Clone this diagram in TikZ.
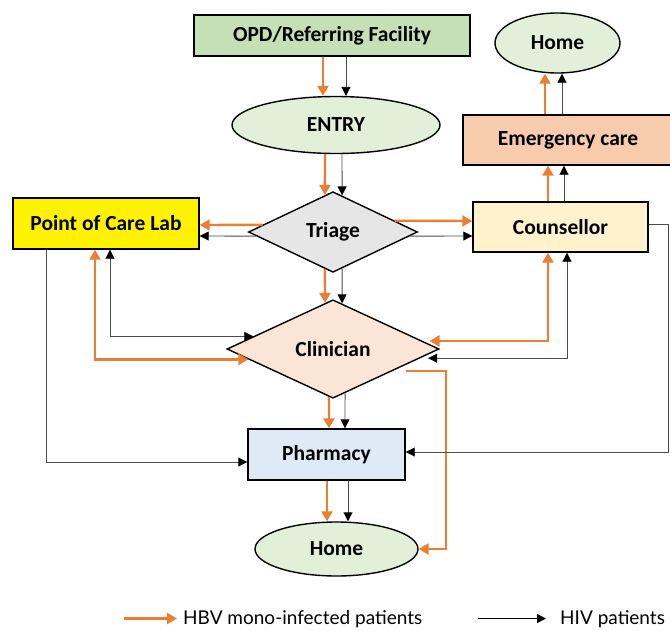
\documentclass[tikz,border=0pt]{standalone}
\usepackage{fontspec}
\setmainfont{Carlito}
\newfontfamily\legendfont{Lato}
\usetikzlibrary{arrows.meta,shapes.geometric,calc}

\definecolor{hbvOrange}{HTML}{ED7D31}
\definecolor{opdGreen}{HTML}{C5E0B4}
\definecolor{homeGreen}{HTML}{E2F0D9}
\definecolor{triageGray}{HTML}{E7E6E6}
\definecolor{counsellorCream}{HTML}{FFF2CC}
\definecolor{emergencyPeach}{HTML}{F8CBAD}
\definecolor{clinicianPink}{HTML}{FBE5D6}
\definecolor{pharmacyBlue}{HTML}{DEEBF7}

\begin{document}
\begin{tikzpicture}[
    x=1pt, y=-1pt,
    font=\fontsize{21.5}{24}\selectfont\bfseries,
    stage/.style={draw=black, line width=1.4pt, inner sep=2pt},
    hbv/.style={draw=hbvOrange, line width=2.4pt, >={Triangle[length=10pt,width=11pt]}},
    hiv/.style={draw=black!70, line width=0.9pt, >={Triangle[length=9pt,width=9pt,color=black]}},
    legend/.style={font=\legendfont\mdseries\fontsize{19}{22}\selectfont, inner sep=0pt}
]
\useasboundingbox (0,0) rectangle (670,630);

\node[stage, fill=opdGreen, minimum width=276, minimum height=41] (opd) at (332,35.5) {OPD/Referring Facility};
\node[stage, ellipse, fill=homeGreen, minimum width=208, minimum height=57] (entry) at (336,125) {ENTRY};
\node[stage, diamond, fill=triageGray, minimum width=169, minimum height=80] (triage) at (333,232) {Triage};
\node[stage, fill=yellow, minimum width=186, minimum height=51] (pocLab) at (106,223.5) {Point of Care Lab};
\node[stage, fill=counsellorCream, minimum width=175, minimum height=50] (counsellor) at (560.5,227) {Counsellor};
\node[stage, fill=emergencyPeach, minimum width=210, minimum height=50] (emergency) at (568,140) {Emergency care};
\node[stage, ellipse, fill=homeGreen, minimum width=125, minimum height=60] (homeTop) at (557.5,43) {Home};
\node[stage, diamond, fill=clinicianPink, minimum width=212, minimum height=87] (clinician) at (333,349) {Clinician};
\node[stage, fill=pharmacyBlue, minimum width=157, minimum height=51] (pharmacy) at (326.5,454.5) {Pharmacy};
\node[stage, ellipse, fill=homeGreen, minimum width=163, minimum height=54] (homeBottom) at (336.5,549) {Home};

% -- HBV mono-infected flow --
\draw[hbv,->] ([xshift=-9]opd.south) -- ([xshift=-13]entry.north);
\draw[hbv,->] ([xshift=-11]entry.south) -- ($(triage.north)!0.095!(triage.west)$);
\draw[hbv,->] ($(triage.west)!0.175!(triage.north)$) -- ([yshift=-1.5]pocLab.east);
\draw[hbv,->] ($(triage.east)!0.275!(triage.north)$) -- ([yshift=6]counsellor.west);
\draw[hbv,->] ($(triage.south)!0.095!(triage.west)$) -- ($(clinician.north)!0.075!(clinician.west)$);
\draw[hbv,<->] ($(clinician.west)!0.207!(clinician.south)$) -| ([xshift=-11]pocLab.south);
\draw[hbv,<->,shorten <=7pt] ($(clinician.east)!0.161!(clinician.north)$) -| ([xshift=-12.5]counsellor.south);
\draw[hbv,->] ([xshift=-12.5]counsellor.north) -- ([xshift=-20]emergency.south);
\draw[hbv,->] ([xshift=-23]emergency.north) -- ([xshift=-12.5]homeTop.south);
\draw[hbv,->] ($(clinician.south)!0.038!(clinician.west)$) -- ([xshift=2.5]pharmacy.north);
\draw[hbv,->] ([xshift=0.5]pharmacy.south) -- ([xshift=-9.5]homeBottom.north);
\draw[hbv,->,shorten <=13pt] ($(clinician.east)!0.44!(clinician.south)$) -- ++(53,0) |- (homeBottom.east);

% -- HIV flow --
\draw[hiv,->] ([xshift=14]opd.south) -- ([xshift=10]entry.north);
\draw[hiv,->] ([xshift=6]entry.south) -- ($(triage.north)!0.107!(triage.east)$);
\draw[hiv,->] ($(triage.west)!0.1!(triage.south)$) -- ([yshift=-12.5]pocLab.east);
\draw[hiv,->] ($(triage.east)!0.1!(triage.south)$) -- ([yshift=-9]counsellor.west);
\draw[hiv,->] ($(triage.south)!0.107!(triage.east)$) -- ($(clinician.north)!0.085!(clinician.east)$);
\draw[hiv,<->] ($(clinician.west)!0.253!(clinician.north)$) -| ([xshift=4]pocLab.south);
\draw[hiv,<->,shorten <=8pt] ($(clinician.east)!0.184!(clinician.south)$) -| ([xshift=6.5]counsellor.south);
\draw[hiv,->] ([xshift=3.5]counsellor.north) -- ([xshift=-4]emergency.south);
\draw[hiv,->] ([xshift=-6]emergency.north) -- ([xshift=4.5]homeTop.south);
\draw[hiv,->] ($(clinician.south)!0.113!(clinician.east)$) -- ([xshift=18.5]pharmacy.north);
\draw[hiv,->] ([xshift=21.5]pharmacy.south) -- ([xshift=11.5]homeBottom.north);
\draw[hiv,->] ([xshift=-60]pocLab.south) |- ([yshift=-7.5]pharmacy.west);
\draw[hiv,->] ([yshift=3]counsellor.east) -- ++(20,0) |- ([yshift=2.5]pharmacy.east);

% -- legend --
\node[legend, anchor=base west] (legendHbv) at (183,624) {HBV mono-infected patients};
\coordinate (legendHbvTail) at (124,618.5);
\draw[hbv,->] (legendHbvTail) -- ([xshift=-6]legendHbvTail -| legendHbv.west);
\node[legend, anchor=base west] (legendHiv) at (560,624) {HIV patients};
\coordinate (legendHivTail) at (478,618.5);
\draw[hiv,->,line width=1.3pt,draw=black] (legendHivTail) -- ([xshift=-14]legendHivTail -| legendHiv.west);

\end{tikzpicture}
\end{document}
